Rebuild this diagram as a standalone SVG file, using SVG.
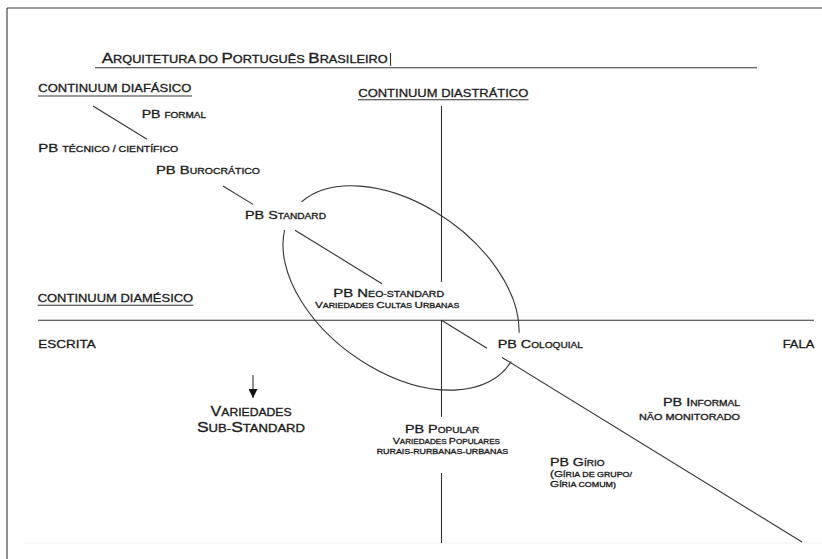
<svg xmlns="http://www.w3.org/2000/svg" width="822" height="559" viewBox="0 0 822 559">
<style>
text{font-family:"Liberation Sans",Arial,Helvetica,sans-serif;fill:#1a1a1a;stroke:#1a1a1a;stroke-width:0.3px}
.L{font-size:11.6px}.S{font-size:8.2px}
.TL{font-size:14px}.TS{font-size:10.5px}
.sL{font-size:9.4px}.sS{font-size:7.1px}
.H{font-size:11.4px}
.ln{stroke:#333;stroke-width:1.1;fill:none}
</style>
<defs>
<marker id="ah" viewBox="0 0 10 10" refX="10" refY="5" markerWidth="10" markerHeight="9" markerUnits="userSpaceOnUse" orient="auto"><path d="M0,0 L10,5 L0,10 Z" fill="#111"/></marker>
</defs>
<rect width="822" height="559" fill="#fff"/>
<g id="frame" class="ln">
<line x1="7" y1="8" x2="822" y2="8"/>
<line x1="7" y1="8" x2="7" y2="559"/>
<line x1="24" y1="543" x2="822" y2="543" stroke="#f2f2f2"/>
</g>
<g id="title">
<text x="101.7" y="62.5" textLength="286" lengthAdjust="spacingAndGlyphs"><tspan class="TL">A</tspan><tspan class="TS">RQUITETURA DO </tspan><tspan class="TL">P</tspan><tspan class="TS">ORTUGUÊS </tspan><tspan class="TL">B</tspan><tspan class="TS">RASILEIRO</tspan></text>
<line class="ln" x1="390.5" y1="53" x2="390.5" y2="66"/>
<line class="ln" x1="95" y1="67.8" x2="757" y2="67.8"/>
</g>
<g id="diafasico">
<text class="H" x="38.3" y="92.3" textLength="153" lengthAdjust="spacingAndGlyphs">CONTINUUM DIAFÁSICO</text>
<line class="ln" x1="38" y1="96" x2="192" y2="96"/>
</g>
<g id="diastratico">
<text class="H" x="358.3" y="96.5" textLength="170" lengthAdjust="spacingAndGlyphs">CONTINUUM DIASTRÁTICO</text>
<line class="ln" x1="358" y1="99.8" x2="528.5" y2="99.8"/>
</g>
<g id="diamesico">
<text class="H" x="37.7" y="301.5" textLength="155.5" lengthAdjust="spacingAndGlyphs">CONTINUUM DIAMÉSICO</text>
<line class="ln" x1="37.7" y1="305.3" x2="193.3" y2="305.3"/>
</g>
<g id="connectors" class="ln">
<line x1="93" y1="106" x2="147" y2="139.2"/>
<line x1="223" y1="186" x2="253" y2="204.4"/>
<line x1="295" y1="230.2" x2="382" y2="283.7"/>
<line x1="441.5" y1="320.3" x2="487" y2="348.3"/>
<line x1="502" y1="357.5" x2="802" y2="542"/>
<line x1="441.5" y1="106" x2="441.5" y2="282"/>
<line x1="441.5" y1="320" x2="441.5" y2="417"/>
<line x1="441.5" y1="473" x2="441.5" y2="543"/>
<line x1="38" y1="320.3" x2="814" y2="320.3"/>
<path d="M301.5,201.9 A132.5,82.5 35.5 0 1 519.1,332.7"/>
<path d="M511.1,361.5 A132.5,82.5 35.5 0 1 284.6,230.1"/>
<line x1="253" y1="375" x2="253" y2="398" marker-end="url(#ah)"/>
</g>
<g id="formal"><text x="141.7" y="118.3" textLength="64.3" lengthAdjust="spacingAndGlyphs"><tspan class="L">PB </tspan><tspan class="S">FORMAL</tspan></text></g>
<g id="tecnico"><text x="38.3" y="151.7" textLength="140" lengthAdjust="spacingAndGlyphs"><tspan class="L">PB </tspan><tspan class="S">TÉCNICO / CIENTÍFICO</tspan></text></g>
<g id="burocratico"><text x="156" y="174" textLength="104" lengthAdjust="spacingAndGlyphs"><tspan class="L">PB B</tspan><tspan class="S">UROCRÁTICO</tspan></text></g>
<g id="standard"><text x="245" y="219.3" textLength="81" lengthAdjust="spacingAndGlyphs"><tspan class="L">PB S</tspan><tspan class="S">TANDARD</tspan></text></g>
<g id="neostandard">
<text x="333.3" y="297.3" textLength="110.7" lengthAdjust="spacingAndGlyphs"><tspan class="L">PB N</tspan><tspan class="S">EO-STANDARD</tspan></text>
<text x="315" y="307.5" textLength="144.3" lengthAdjust="spacingAndGlyphs"><tspan class="sL">V</tspan><tspan class="sS">ARIEDADES </tspan><tspan class="sL">C</tspan><tspan class="sS">ULTAS </tspan><tspan class="sL">U</tspan><tspan class="sS">RBANAS</tspan></text>
</g>
<g id="escrita"><text class="H" x="38.3" y="347.7" textLength="57.4" lengthAdjust="spacingAndGlyphs">ESCRITA</text></g>
<g id="fala"><text class="H" x="782.7" y="347.7" textLength="31.6" lengthAdjust="spacingAndGlyphs">FALA</text></g>
<g id="coloquial"><text x="497.7" y="347.7" textLength="85.3" lengthAdjust="spacingAndGlyphs"><tspan class="L">PB C</tspan><tspan class="S">OLOQUIAL</tspan></text></g>
<g id="substandard">
<text x="210.5" y="416" textLength="81" lengthAdjust="spacingAndGlyphs"><tspan class="TL">V</tspan><tspan class="TS">ARIEDADES</tspan></text>
<text x="197" y="431.7" textLength="108" lengthAdjust="spacingAndGlyphs"><tspan class="TL">S</tspan><tspan class="TS">UB-</tspan><tspan class="TL">S</tspan><tspan class="TS">TANDARD</tspan></text>
</g>
<g id="popular">
<text x="405" y="433.3" textLength="74.3" lengthAdjust="spacingAndGlyphs"><tspan class="L">PB P</tspan><tspan class="S">OPULAR</tspan></text>
<text x="392.7" y="443.8" textLength="107.3" lengthAdjust="spacingAndGlyphs"><tspan class="sL">V</tspan><tspan class="sS">ARIEDADES </tspan><tspan class="sL">P</tspan><tspan class="sS">OPULARES</tspan></text>
<text class="sS" x="376.7" y="454" textLength="131.6" lengthAdjust="spacingAndGlyphs">RURAIS-RURBANAS-URBANAS</text>
</g>
<g id="informal">
<text x="663" y="406" textLength="77" lengthAdjust="spacingAndGlyphs"><tspan class="L">PB I</tspan><tspan class="S">NFORMAL</tspan></text>
<text class="S" x="639" y="420" textLength="101" lengthAdjust="spacingAndGlyphs">NÃO MONITORADO</text>
</g>
<g id="girio">
<text x="550" y="466" textLength="54.5" lengthAdjust="spacingAndGlyphs"><tspan class="L">PB G</tspan><tspan class="S">ÍRIO</tspan></text>
<text x="550" y="477" textLength="82" lengthAdjust="spacingAndGlyphs"><tspan class="sL">(G</tspan><tspan class="sS">ÍRIA DE GRUPO/</tspan></text>
<text x="550" y="487" textLength="66" lengthAdjust="spacingAndGlyphs"><tspan class="sL">G</tspan><tspan class="sS">ÍRIA COMUM)</tspan></text>
</g>
</svg>
